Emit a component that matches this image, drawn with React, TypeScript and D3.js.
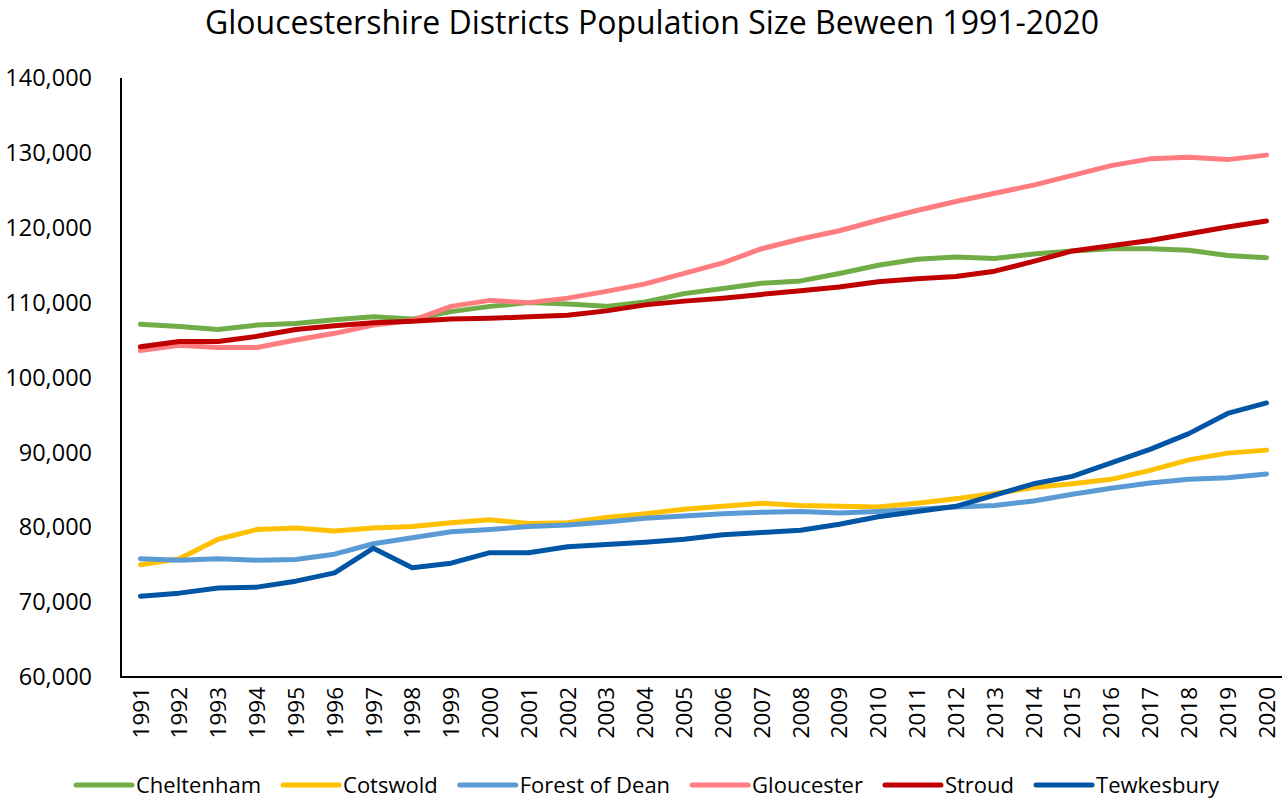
import { useEffect, useRef } from 'react';
import * as d3 from 'd3';

const years = d3.range(1991, 2021).map(String);
const seriesNames = ['Cheltenham', 'Cotswold', 'Forest of Dean', 'Gloucester', 'Stroud', 'Tewkesbury'];
const seriesColors = ['#70AD47', '#FFC000', '#5B9BD5', '#FF7C80', '#C00000', '#0055A5'];
const yTicks = [60000, 70000, 80000, 90000, 100000, 110000, 120000, 130000, 140000];

const cheltenham = [107100, 106800, 106400, 107000, 107200, 107700, 108100, 107800, 108800, 109500, 110000, 109800, 109500, 110100, 111200, 111900, 112600, 112900, 113900, 115000, 115800, 116100, 115900, 116500, 116900, 117200, 117200, 117000, 116300, 116000];
const cotswold = [75000, 75800, 78400, 79700, 79900, 79500, 79900, 80100, 80600, 81000, 80500, 80600, 81300, 81800, 82400, 82800, 83200, 82900, 82800, 82700, 83200, 83800, 84500, 85300, 85800, 86400, 87600, 89000, 89900, 90300];
const forestOfDean = [75800, 75600, 75800, 75600, 75700, 76400, 77800, 78600, 79400, 79700, 80100, 80300, 80700, 81200, 81500, 81800, 82000, 82100, 81900, 82100, 82400, 82700, 82900, 83500, 84400, 85200, 85900, 86400, 86600, 87100];
const gloucester = [103600, 104300, 104000, 104000, 105000, 105900, 107000, 107600, 109500, 110300, 110000, 110600, 111500, 112500, 113900, 115300, 117200, 118500, 119600, 121000, 122300, 123500, 124600, 125700, 127000, 128300, 129200, 129400, 129100, 129700];
const stroud = [104100, 104800, 104800, 105500, 106400, 106900, 107300, 107500, 107800, 107900, 108100, 108300, 108900, 109700, 110200, 110600, 111100, 111600, 112100, 112800, 113200, 113500, 114200, 115500, 116900, 117600, 118300, 119200, 120100, 120900];
const tewkesbury = [70800, 71200, 71900, 72000, 72800, 73900, 77200, 74600, 75200, 76600, 76600, 77400, 77700, 78000, 78400, 79000, 79300, 79600, 80400, 81400, 82100, 82800, 84300, 85800, 86800, 88600, 90400, 92500, 95200, 96600];

const seriesValues = [cheltenham, cotswold, forestOfDean, gloucester, stroud, tewkesbury];

const W = 1282;
const H = 802;
const FONT = "'Open Sans', sans-serif";

const App = () => {
    const svgRef = useRef(null);

    useEffect(() => {
        const svg = d3.select(svgRef.current);
        svg.selectAll('*').remove();

        const left = 121;
        const top = 78;
        const bottom = 677;
        const band = 38.83;

        const x = d3.scaleBand().domain(years).range([left, left + band * years.length]).padding(0);
        const y = d3.scaleLinear().domain([60000, 140000]).range([bottom, top]);
        const cx = (yr) => x(yr) + x.bandwidth() / 2;

        // title
        svg.append('text')
            .attr('x', 652)
            .attr('y', 34)
            .attr('text-anchor', 'middle')
            .style('font-family', FONT)
            .style('font-size', '32px')
            .attr('fill', '#000')
            .text('Gloucestershire Districts Population Size Beween 1991-2020');

        // axes lines
        svg.append('line')
            .attr('x1', left).attr('x2', left)
            .attr('y1', top).attr('y2', bottom)
            .attr('stroke', '#000').attr('stroke-width', 2);
        svg.append('line')
            .attr('x1', left - 1).attr('x2', W)
            .attr('y1', bottom).attr('y2', bottom)
            .attr('stroke', '#000').attr('stroke-width', 2);

        // y tick labels
        svg.append('g').selectAll('text')
            .data(yTicks)
            .enter()
            .append('text')
            .attr('x', 92)
            .attr('y', d => y(d))
            .attr('dy', '0.35em')
            .attr('text-anchor', 'end')
            .style('font-family', FONT)
            .style('font-size', '23.5px')
            .attr('fill', '#000')
            .text(d => d3.format(',')(d));

        // x tick labels, rotated
        svg.append('g').selectAll('text')
            .data(years)
            .enter()
            .append('text')
            .attr('transform', d => `translate(${cx(d)}, ${bottom + 10}) rotate(-90)`)
            .attr('dy', '0.36em')
            .attr('text-anchor', 'end')
            .style('font-family', FONT)
            .style('font-size', '22.5px')
            .attr('fill', '#000')
            .text(d => d);

        // lines
        const line = d3.line()
            .x((d, i) => cx(years[i]))
            .y(d => y(d));

        seriesValues.forEach((vals, i) => {
            svg.append('path')
                .datum(vals)
                .attr('d', line)
                .attr('fill', 'none')
                .attr('stroke', seriesColors[i])
                .attr('stroke-width', 5)
                .attr('stroke-linecap', 'round')
                .attr('stroke-linejoin', 'round');
        });

        // legend
        const legend = svg.append('g');
        const swatch = 56;
        const legendY = 785;
        let lx = 76;
        seriesNames.forEach((name, i) => {
            const item = legend.append('g');
            item.append('line')
                .attr('x1', lx).attr('x2', lx + swatch)
                .attr('y1', legendY).attr('y2', legendY)
                .attr('stroke', seriesColors[i])
                .attr('stroke-width', 5)
                .attr('stroke-linecap', 'round');
            const t = item.append('text')
                .attr('x', lx + swatch + 4)
                .attr('y', legendY)
                .attr('dy', '0.35em')
                .style('font-family', FONT)
                .style('font-size', '22px')
                .attr('fill', '#000')
                .text(name);
            const w = t.node().getComputedTextLength();
            lx += swatch + 4 + w + 22;
        });
    }, []);

    return (
        <svg ref={svgRef} width={W} height={H}
            style={{ position: 'absolute', left: 0, top: 0, background: '#fff' }}></svg>
    );
};

export default App;
